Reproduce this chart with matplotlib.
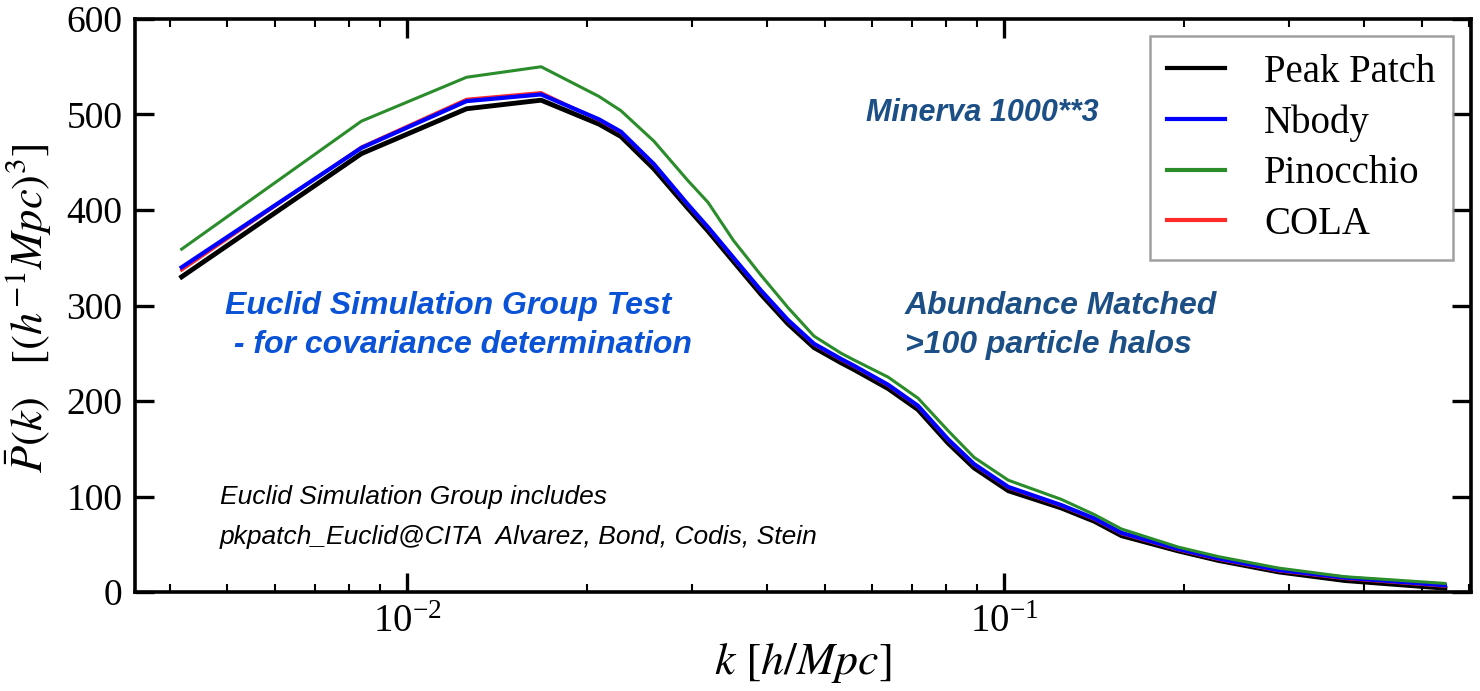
import matplotlib
matplotlib.use("Agg")
import matplotlib.pyplot as plt
from matplotlib.ticker import LogLocator, NullFormatter, FixedLocator

plt.rcParams["font.family"] = "serif"
plt.rcParams["font.serif"] = ["Liberation Serif", "DejaVu Serif"]
plt.rcParams["mathtext.fontset"] = "stix"

# Wavenumbers k [h/Mpc] (first bins are multiples of the fundamental mode)
k = [0.00419, 0.00838, 0.01257, 0.01676, 0.02094, 0.0228, 0.0259, 0.0295,
     0.0319, 0.0352, 0.0391, 0.0434, 0.0480, 0.0533, 0.0560, 0.0639,
     0.0717, 0.0805, 0.0890, 0.1016, 0.1246, 0.1416, 0.1571, 0.1957,
     0.2286, 0.2883, 0.3720, 0.5471]

# Mean halo power spectra per method
peak_patch = [330, 459, 506, 515, 490, 477, 443, 402, 378, 346, 312, 281, 256, 240,
              233, 213, 191, 156, 130, 106, 88, 74, 59, 43, 33, 21, 12, 4]
nbody = [340, 465, 514, 521, 495, 482, 448, 406, 382, 350, 316, 285, 260, 244,
         237, 217, 195, 160, 134, 110, 91, 77, 62, 45, 35, 23, 15, 7]
pinocchio = [359, 493, 539, 550, 519, 504, 472, 431, 408, 368, 332, 298, 268, 250,
             243, 225, 203, 169, 141, 117, 97, 81, 66, 47, 37, 25, 16, 9]
cola = [337, 466, 516, 523, 494, 481, 447, 405, 381, 349, 315, 284, 259, 243,
        236, 216, 194, 159, 133, 109, 90, 76, 61, 44, 34, 22, 14, 6]

y_ticks = [0, 100, 200, 300, 400, 500, 600]

W, H = 1480, 691
fig = plt.figure(figsize=(W / 100, H / 100), dpi=100)
ax = fig.add_axes([135 / W, 1 - 592 / H, (1471 - 135) / W, (592 - 19) / H])

ax.plot(k, peak_patch, color="black", lw=3.5, label="Peak Patch", zorder=2)
ax.plot(k, cola, color="#ff2a2a", lw=2.2, label="COLA", zorder=3)
ax.plot(k, nbody, color="#0000ff", lw=3.0, label="Nbody", zorder=4)
ax.plot(k, pinocchio, color="#2a8c2a", lw=2.2, label="Pinocchio", zorder=5)

ax.set_xscale("log")
ax.set_xlim(0.0035, 0.605)
ax.set_ylim(0, 600)
ax.yaxis.set_major_locator(FixedLocator(y_ticks))
ax.xaxis.set_major_locator(LogLocator(base=10, numticks=10))
ax.xaxis.set_minor_locator(LogLocator(base=10, subs=range(2, 10), numticks=20))
ax.xaxis.set_minor_formatter(NullFormatter())

ax.tick_params(which="both", direction="in", top=True, right=True)
ax.tick_params(axis="y", labelsize=27)
ax.tick_params(axis="x", labelsize=28)
ax.tick_params(which="major", length=14, width=2.4, pad=9)
ax.tick_params(which="minor", length=6, width=1.5)
for sp in ax.spines.values():
    sp.set_linewidth(2.6)

ax.set_xlabel(r"$k\ [h/Mpc]$", fontsize=33)
ax.set_ylabel(r"$\bar{P}(k)\quad[(h^{-1}Mpc)^3]$", fontsize=32)
ax.xaxis.set_label_coords(0.5, -0.085)
ax.yaxis.set_label_coords(-0.061, 0.495)

handles, labels = ax.get_legend_handles_labels()
order = ["Peak Patch", "Nbody", "Pinocchio", "COLA"]
hmap = dict(zip(labels, handles))
leg = ax.legend([hmap[o] for o in order], order, loc="upper right",
                bbox_to_anchor=(1453 / W, 1 - 36 / H), bbox_transform=fig.transFigure,
                fontsize=28, frameon=True, fancybox=False, handlelength=1.5,
                handletextpad=1.0, labelspacing=0.35, borderpad=0.45,
                borderaxespad=0.0)
leg.get_frame().set_edgecolor("#888888")
leg.get_frame().set_linewidth(1.8)
for line in leg.get_lines():
    line.set_linewidth(3.0)

sans = ["Liberation Sans", "DejaVu Sans"]
dark_blue = "#1b4f86"
bright_blue = "#0a52d6"


def ftext(x, y, s, **kw):
    fig.text(x / W, 1 - y / H, s, family=sans, va="center", ha="left", **kw)


ftext(866, 113, "Minerva 1000**3", fontsize=22, weight="bold", style="italic",
      color=dark_blue)
ftext(225, 306, "Euclid Simulation Group Test", fontsize=23, weight="bold",
      style="italic", color=bright_blue)
ftext(225, 345, " - for covariance determination", fontsize=23, weight="bold",
      style="italic", color=bright_blue)
ftext(905, 306, "Abundance Matched", fontsize=23, weight="bold", style="italic",
      color=dark_blue)
ftext(905, 345, ">100 particle halos", fontsize=23, weight="bold", style="italic",
      color=dark_blue)
ftext(220, 497, "Euclid Simulation Group includes", fontsize=19, style="italic",
      color="black")
ftext(220, 537, "pkpatch_Euclid@CITA  Alvarez, Bond, Codis, Stein", fontsize=19,
      style="italic", color="black")

fig.savefig("out.png", dpi=100)
